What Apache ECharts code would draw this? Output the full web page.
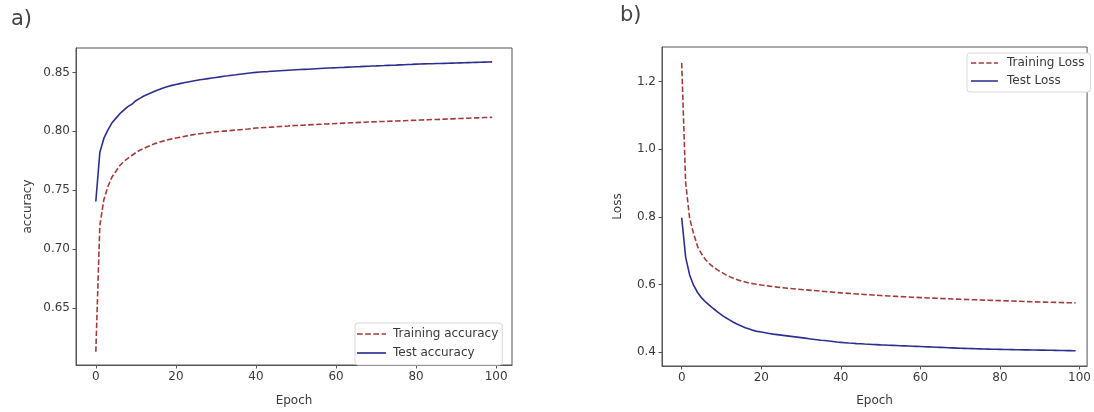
<!DOCTYPE html>
<html>
<head>
<meta charset="utf-8">
<script src="https://cdn.jsdelivr.net/npm/echarts@6/dist/echarts.min.js"></script>
<style>
  html, body { margin: 0; padding: 0; background: #ffffff; }
  #chart { width: 1094px; height: 412px; }
</style>
</head>
<body>
<div id="chart"></div>
<script>
// Epoch index 0..99
const epochs = Array.from({ length: 100 }, (_, i) => i);

// Panel a) accuracy per epoch
const trainAcc = [
  0.6130, 0.7200, 0.7420, 0.7530, 0.7610, 0.7660, 0.7710, 0.7745, 0.7770, 0.7795,
  0.7820, 0.7840, 0.7856, 0.7871, 0.7885, 0.7898, 0.7910, 0.7919, 0.7928, 0.7936,
  0.7943, 0.7950, 0.7957, 0.7964, 0.7970, 0.7975, 0.7980, 0.7984, 0.7988, 0.7992,
  0.7996, 0.7999, 0.8002, 0.8005, 0.8008, 0.8011, 0.8014, 0.8017, 0.8020, 0.8024,
  0.8028, 0.8030, 0.8032, 0.8034, 0.8036, 0.8038, 0.8041, 0.8043, 0.8045, 0.8048,
  0.8050, 0.8052, 0.8053, 0.8055, 0.8057, 0.8058, 0.8060, 0.8062, 0.8063, 0.8065,
  0.8067, 0.8068, 0.8070, 0.8071, 0.8073, 0.8074, 0.8076, 0.8077, 0.8079, 0.8080,
  0.8082, 0.8083, 0.8084, 0.8085, 0.8087, 0.8088, 0.8089, 0.8090, 0.8092, 0.8093,
  0.8094, 0.8096, 0.8097, 0.8098, 0.8100, 0.8101, 0.8102, 0.8104, 0.8105, 0.8106,
  0.8108, 0.8109, 0.8110, 0.8111, 0.8113, 0.8114, 0.8115, 0.8117, 0.8118, 0.8120
];
const testAcc = [
  0.7405, 0.7820, 0.7940, 0.8010, 0.8070, 0.8110, 0.8150, 0.8180, 0.8210, 0.8230,
  0.8260, 0.8280, 0.8300, 0.8315, 0.8330, 0.8345, 0.8358, 0.8370, 0.8380, 0.8390,
  0.8398, 0.8405, 0.8412, 0.8419, 0.8425, 0.8431, 0.8437, 0.8442, 0.8447, 0.8452,
  0.8457, 0.8462, 0.8467, 0.8471, 0.8476, 0.8480, 0.8485, 0.8489, 0.8493, 0.8497,
  0.8500, 0.8503, 0.8505, 0.8507, 0.8510, 0.8512, 0.8514, 0.8516, 0.8518, 0.8520,
  0.8522, 0.8524, 0.8526, 0.8527, 0.8529, 0.8531, 0.8533, 0.8535, 0.8537, 0.8538,
  0.8540, 0.8542, 0.8543, 0.8545, 0.8546, 0.8548, 0.8549, 0.8551, 0.8552, 0.8554,
  0.8555, 0.8557, 0.8558, 0.8560, 0.8561, 0.8562, 0.8564, 0.8565, 0.8567, 0.8568,
  0.8570, 0.8571, 0.8572, 0.8573, 0.8574, 0.8575, 0.8576, 0.8577, 0.8578, 0.8579,
  0.8580, 0.8581, 0.8582, 0.8583, 0.8584, 0.8585, 0.8586, 0.8587, 0.8588, 0.8589
];

// Panel b) loss per epoch
const trainLoss = [
  1.2550, 0.9000, 0.7950, 0.7500, 0.7120, 0.6900, 0.6730, 0.6610, 0.6510, 0.6430,
  0.6360, 0.6290, 0.6230, 0.6180, 0.6140, 0.6100, 0.6070, 0.6040, 0.6020, 0.6000,
  0.5980, 0.5965, 0.5950, 0.5935, 0.5920, 0.5910, 0.5895, 0.5880, 0.5870, 0.5860,
  0.5850, 0.5840, 0.5830, 0.5820, 0.5810, 0.5800, 0.5790, 0.5780, 0.5770, 0.5760,
  0.5750, 0.5742, 0.5734, 0.5726, 0.5718, 0.5710, 0.5702, 0.5694, 0.5686, 0.5678,
  0.5670, 0.5664, 0.5658, 0.5652, 0.5646, 0.5640, 0.5634, 0.5628, 0.5622, 0.5616,
  0.5610, 0.5605, 0.5600, 0.5595, 0.5590, 0.5585, 0.5580, 0.5575, 0.5570, 0.5565,
  0.5560, 0.5556, 0.5552, 0.5548, 0.5544, 0.5540, 0.5536, 0.5532, 0.5528, 0.5524,
  0.5520, 0.5516, 0.5512, 0.5508, 0.5504, 0.5500, 0.5496, 0.5492, 0.5488, 0.5484,
  0.5480, 0.5477, 0.5474, 0.5471, 0.5468, 0.5465, 0.5462, 0.5459, 0.5456, 0.5453
];
const testLoss = [
  0.7970, 0.6800, 0.6280, 0.5970, 0.5760, 0.5600, 0.5480, 0.5380, 0.5280, 0.5190,
  0.5100, 0.5020, 0.4950, 0.4880, 0.4820, 0.4770, 0.4720, 0.4680, 0.4640, 0.4610,
  0.4590, 0.4570, 0.4550, 0.4530, 0.4515, 0.4500, 0.4485, 0.4470, 0.4455, 0.4440,
  0.4425, 0.4410, 0.4395, 0.4380, 0.4365, 0.4350, 0.4340, 0.4325, 0.4310, 0.4295,
  0.4285, 0.4275, 0.4265, 0.4258, 0.4250, 0.4243, 0.4236, 0.4230, 0.4224, 0.4218,
  0.4212, 0.4207, 0.4202, 0.4197, 0.4192, 0.4187, 0.4182, 0.4177, 0.4172, 0.4167,
  0.4162, 0.4157, 0.4152, 0.4147, 0.4142, 0.4137, 0.4132, 0.4127, 0.4122, 0.4117,
  0.4112, 0.4108, 0.4104, 0.4100, 0.4096, 0.4093, 0.4090, 0.4087, 0.4084, 0.4081,
  0.4078, 0.4075, 0.4073, 0.4071, 0.4069, 0.4067, 0.4065, 0.4063, 0.4061, 0.4059,
  0.4057, 0.4055, 0.4053, 0.4051, 0.4049, 0.4047, 0.4045, 0.4043, 0.4041, 0.4040
];

// Tick labels
const epochTicks = [0, 20, 40, 60, 80, 100];
const accTicks = [0.65, 0.70, 0.75, 0.80, 0.85];
const lossTicks = [0.4, 0.6, 0.8, 1.0, 1.2];

const FONT = 'DejaVu Sans';
const FS = 12;
const INK = '#3a3a3a';
const FRAME = '#555555';
const RED = '#a23c3a';
const BLUE = '#2c2f90';
const DASH = [5.5, 2.4];

// Legend handles: a dashed and a solid short stroke
const ICON_DASHED = 'path://M0,0L5.5,0L5.5,1.6L0,1.6Z M7.9,0L13.4,0L13.4,1.6L7.9,1.6Z M15.8,0L21.3,0L21.3,1.6L15.8,1.6Z M23.7,0L28,0L28,1.6L23.7,1.6Z';
const ICON_SOLID = 'path://M0,0L28,0L28,1.6L0,1.6Z';

const pairs = (ys) => epochs.map((x, i) => [x, ys[i]]);

function xAxisCfg(gridIndex, max, gap) {
  return {
    type: 'value', gridIndex, min: -4.95, max,
    name: 'Epoch', nameLocation: 'middle', nameGap: gap,
    nameTextStyle: { fontFamily: FONT, fontSize: FS, color: INK },
    axisLine: { show: true, onZero: false, lineStyle: { color: FRAME, width: 1 } },
    axisTick: { show: true, length: 3.5, customValues: epochTicks, lineStyle: { color: FRAME } },
    axisLabel: { customValues: epochTicks, fontFamily: FONT, fontSize: FS, color: INK, margin: 6 },
    splitLine: { show: false }
  };
}

function yAxisCfg(gridIndex, min, max, ticks, digits, name, gap) {
  return {
    type: 'value', gridIndex, min, max,
    name, nameLocation: 'middle', nameGap: gap,
    nameTextStyle: { fontFamily: FONT, fontSize: FS, color: INK },
    axisLine: { show: true, onZero: false, lineStyle: { color: FRAME, width: 1 } },
    axisTick: { show: true, length: 3.5, customValues: ticks, lineStyle: { color: FRAME } },
    axisLabel: {
      customValues: ticks, fontFamily: FONT, fontSize: FS, color: INK, margin: 6,
      formatter: (v) => Number(v).toFixed(digits)
    },
    splitLine: { show: false }
  };
}

function lineSeries(name, data, xi, color, dashed) {
  return {
    type: 'line', name, xAxisIndex: xi, yAxisIndex: xi,
    data: pairs(data), showSymbol: false, symbol: 'none', smooth: false,
    lineStyle: { color, width: 1.6, type: dashed ? DASH : 'solid' },
    itemStyle: { color },
    animation: false, z: 3
  };
}

const legendBase = {
  show: true,
  orient: 'vertical', align: 'left',
  itemWidth: 29, itemHeight: 12, itemGap: 7,
  backgroundColor: '#ffffff',
  borderColor: '#d8d8d8', borderWidth: 1, borderRadius: 3,
  selectedMode: false
};

const chart = echarts.init(document.getElementById('chart'), null, { renderer: 'canvas' });

chart.setOption({
  backgroundColor: '#ffffff',
  animation: false,
  graphic: [
    { type: 'text', left: 11, top: 9, style: { text: 'a)', font: '21px "DejaVu Sans"', fill: '#444' } },
    { type: 'text', left: 620, top: 5, style: { text: 'b)', font: '21px "DejaVu Sans"', fill: '#444' } }
  ],
  grid: [
    { left: 76, top: 48, width: 436, height: 323, show: true, borderColor: FRAME, borderWidth: 1, backgroundColor: 'transparent' },
    { left: 662, top: 47, width: 428, height: 327, show: true, borderColor: FRAME, borderWidth: 1, backgroundColor: 'transparent' }
  ],
  xAxis: [
    xAxisCfg(0, 103.95, 30),
    xAxisCfg(1, 101.9, 29)
  ],
  yAxis: [
    yAxisCfg(0, 0.6018, 0.8707, accTicks, 2, 'accuracy', 42),
    yAxisCfg(1, 0.3587, 1.302, lossTicks, 1, 'Loss', 38)
  ],
  legend: [
    Object.assign({}, legendBase, {
      data: [
        { name: 'Training accuracy', icon: ICON_DASHED },
        { name: 'Test accuracy', icon: ICON_SOLID }
      ],
      left: 355, top: 323, padding: [5, 4, 6, 2], itemGap: 7,
      textStyle: { fontFamily: FONT, fontSize: FS, color: INK, padding: [0, 0, 0, 2] }
    }),
    Object.assign({}, legendBase, {
      data: [
        { name: 'Training Loss', icon: ICON_DASHED },
        { name: 'Test Loss', icon: ICON_SOLID }
      ],
      left: 967, top: 53, padding: [4, 6, 5, 4], itemWidth: 27, itemGap: 6,
      textStyle: { fontFamily: FONT, fontSize: FS, color: INK, padding: [0, 0, 0, 4] }
    })
  ],
  series: [
    lineSeries('Training accuracy', trainAcc, 0, RED, true),
    lineSeries('Test accuracy', testAcc, 0, BLUE, false),
    lineSeries('Training Loss', trainLoss, 1, RED, true),
    lineSeries('Test Loss', testLoss, 1, BLUE, false)
  ]
});
</script>
</body>
</html>
